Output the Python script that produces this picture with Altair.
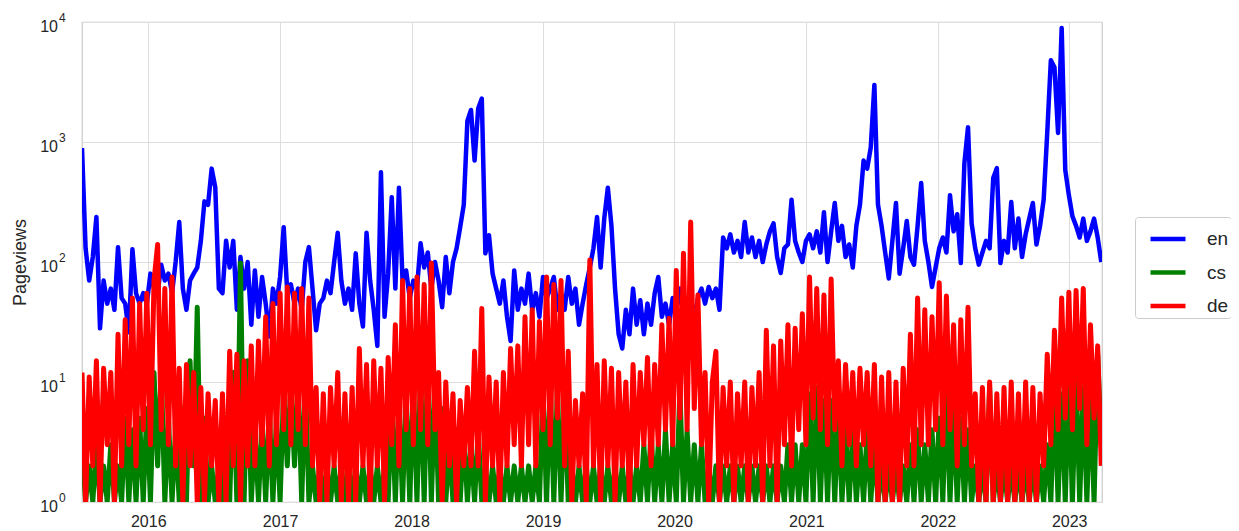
import altair as alt
import pandas as pd

# sampling dates (every 10 days from 2015-07-01)
n_points = 284
dates = pd.date_range("2015-07-01", periods=n_points, freq="10D").strftime("%Y-%m-%d").tolist()

en = [
    890, 130, 70, 110, 237, 28, 70, 45, 60, 40,
    133, 50, 45, 26, 128, 55, 45, 55, 45, 80,
    60, 55, 95, 70, 80, 55, 100, 215, 60, 40,
    70, 80, 90, 150, 320, 300, 600, 420, 60, 55,
    150, 90, 150, 40, 110, 60, 100, 30, 85, 35,
    75, 45, 24, 60, 45, 75, 195, 55, 65, 45,
    60, 40, 100, 133, 60, 27, 45, 50, 70, 55,
    100, 175, 70, 45, 60, 40, 118, 45, 29, 175,
    70, 40, 20, 560, 35, 80, 347, 60, 415, 70,
    85, 50, 70, 60, 143, 90, 120, 60, 100, 70,
    42, 110, 55, 100, 130, 195, 300, 1500, 1850, 700,
    1900, 2300, 118, 167, 80, 60, 45, 70, 35, 22,
    85, 40, 60, 45, 80, 40, 55, 35, 75, 50,
    60, 75, 40, 55, 40, 75, 45, 60, 30, 45,
    65, 90, 130, 237, 90, 230, 415, 200, 60, 25,
    19, 40, 25, 60, 30, 48, 25, 45, 30, 55,
    75, 35, 45, 30, 50, 40, 60, 35, 45, 55,
    30, 50, 60, 45, 62, 50, 60, 40, 160, 130,
    170, 120, 150, 110, 215, 120, 160, 110, 150, 100,
    140, 180, 210, 110, 81, 130, 140, 330, 150, 120,
    100, 150, 170, 130, 180, 120, 260, 100, 180, 310,
    150, 200, 110, 140, 90, 200, 300, 700, 600, 900,
    2990, 300, 200, 120, 73, 150, 310, 80, 130, 220,
    110, 95, 200, 455, 150, 100, 62, 90, 130, 160,
    120, 360, 180, 250, 98, 670, 1330, 210, 130, 95,
    120, 150, 130, 500, 605, 98, 150, 120, 316, 130,
    230, 110, 170, 230, 310, 140, 200, 330, 1200, 4800,
    4200, 1190, 8900, 585, 360, 240, 200, 160, 230, 150,
    180, 230, 160, 100,
]

de = [
    12, 1, 11, 2, 15, 1, 13, 3, 12, 1,
    25, 2, 33, 3, 50, 2, 45, 4, 55, 3,
    70, 140, 4, 60, 3, 75, 2, 13, 1, 14,
    2, 12, 1, 9, 1, 8, 2, 7, 1, 8,
    1, 18, 2, 17, 1, 15, 2, 20, 2, 22,
    3, 35, 2, 45, 3, 55, 4, 62, 3, 55,
    4, 60, 3, 50, 2, 9, 1, 8, 1, 9,
    2, 12, 1, 8, 1, 9, 1, 19, 2, 14,
    1, 15, 2, 13, 1, 16, 3, 30, 2, 70,
    4, 60, 3, 75, 4, 65, 3, 98, 4, 12,
    1, 10, 2, 8, 1, 7, 2, 9, 2, 18,
    2, 41, 1, 11, 2, 10, 1, 12, 2, 19,
    3, 20, 2, 35, 3, 40, 2, 32, 4, 75,
    3, 65, 5, 70, 2, 18, 1, 7, 2, 8,
    1, 104, 2, 14, 1, 15, 2, 13, 1, 12,
    2, 10, 1, 14, 2, 12, 3, 16, 2, 14,
    3, 30, 4, 34, 3, 85, 5, 118, 4, 215,
    6, 53, 3, 12, 1, 10, 18, 1, 9, 2,
    10, 1, 8, 2, 10, 1, 9, 2, 12, 1,
    27, 2, 20, 1, 22, 3, 30, 2, 28, 4,
    37, 3, 75, 5, 60, 4, 53, 3, 72, 4,
    15, 2, 14, 3, 12, 2, 13, 3, 12, 2,
    14, 1, 11, 1, 12, 1, 10, 1, 13, 2,
    25, 2, 50, 3, 40, 3, 35, 4, 67, 3,
    52, 4, 30, 2, 33, 3, 42, 2, 8, 1,
    9, 1, 10, 1, 8, 1, 9, 1, 10, 1,
    8, 1, 10, 1, 9, 1, 8, 2, 17, 3,
    27, 4, 50, 5, 56, 4, 58, 6, 60, 3,
    30, 5, 20, 2,
]

cs = [
    3, 1, 2, 1, 3, 1, 2, 1, 3, 1,
    2, 1, 5, 1, 4, 1, 5, 1, 6, 1,
    12, 2, 13, 1, 5, 1, 4, 1, 6, 1,
    15, 2, 42, 1, 5, 1, 2, 1, 2, 1,
    3, 1, 12, 1, 98, 1, 15, 1, 4, 1,
    5, 1, 6, 1, 5, 1, 9, 2, 10, 2,
    10, 1, 11, 1, 2, 1, 2, 1, 2, 1,
    2, 1, 2, 1, 2, 1, 2, 1, 2, 1,
    2, 1, 2, 1, 2, 1, 7, 1, 7, 1,
    8, 1, 10, 1, 12, 1, 16, 1, 10, 1,
    6, 1, 3, 1, 4, 1, 4, 1, 3, 1,
    4, 1, 2, 1, 2, 1, 2, 1, 2, 1,
    2, 1, 2, 1, 2, 1, 2, 1, 9, 1,
    10, 1, 9, 1, 8, 1, 2, 1, 2, 1,
    2, 1, 2, 1, 2, 1, 2, 1, 2, 1,
    2, 1, 2, 1, 2, 1, 3, 1, 4, 1,
    3, 1, 4, 1, 3, 1, 9, 1, 4, 1,
    3, 1, 3, 1, 2, 1, 2, 1, 2, 1,
    2, 1, 2, 1, 2, 1, 2, 1, 2, 1,
    2, 1, 2, 1, 2, 1, 3, 1, 3, 1,
    3, 1, 8, 1, 9, 1, 7, 1, 7, 1,
    6, 1, 4, 1, 4, 1, 3, 1, 4, 1,
    3, 1, 2, 1, 2, 1, 2, 1, 2, 1,
    3, 1, 4, 1, 3, 1, 4, 1, 5, 1,
    8, 1, 6, 1, 5, 1, 4, 1, 2, 1,
    2, 1, 9, 1, 2, 1, 2, 1, 2, 1,
    2, 1, 2, 1, 2, 1, 2, 1, 3, 1,
    9, 1, 8, 1, 10, 1, 12, 1, 9, 1,
    8, 1, 17, 3,
]

langs = ["en", "cs", "de"]
colors = ["#0000ff", "#008000", "#ff0000"]
line_widths = [4.5, 5, 5]
y_ticks = [1, 10, 100, 1000, 10000]
y_tick_base = ["10", "10", "10", "10", "10"]
y_tick_exp = ["0", "1", "2", "3", "4"]

series = {"en": en, "cs": cs, "de": de}
rows = []
for lang in langs:
    for d, v in zip(dates, series[lang]):
        rows.append({"date": d, "views": v, "lang": lang})
df = pd.DataFrame(rows)

tick_df = pd.DataFrame({"views": y_ticks, "base": y_tick_base, "exp": y_tick_exp})

x_enc = alt.X(
    "date:T",
    scale=alt.Scale(
        type="utc",
        domain=[alt.DateTime(year=2015, month=7, date=1, utc=True),
                alt.DateTime(year=2023, month=4, date=2, utc=True)],
        nice=False,
    ),
    axis=alt.Axis(title=None, tickCount="year", format="%Y", labelPadding=11,
                  labelFontSize=16),
)
y_scale = alt.Scale(type="log", domain=[1, 10000], nice=False)
y_enc = alt.Y(
    "views:Q",
    scale=y_scale,
    axis=alt.Axis(
        title="Pageviews",
        values=y_ticks,
        labels=False,
        titleFontSize=18,
        titleX=-62,
        titleY=240,
        titleAngle=270,
        titleAlign="center",
        titleBaseline="middle",
    ),
)
color_enc = alt.Color(
    "lang:N",
    scale=alt.Scale(domain=langs, range=colors),
    legend=alt.Legend(
        orient="none", legendX=1053, legendY=195, title=None,
        fillColor="white", strokeColor="#cccccc", padding=2, cornerRadius=3,
        symbolType="stroke", symbolSize=1225, symbolStrokeWidth=4.5,
        labelFontSize=19, labelFont="Liberation Sans", labelColor="#262626",
        labelOffset=19, rowPadding=3.5, symbolOffset=11,
    ),
)

layers = []
for lang, lw in zip(langs, line_widths):
    layers.append(
        alt.Chart(df)
        .transform_filter(alt.datum.lang == lang)
        .mark_line(strokeWidth=lw, strokeJoin="round", clip=True)
        .encode(x=x_enc, y=y_enc, color=color_enc)
    )

# y tick labels: "10" with a raised exponent
base_labels = (
    alt.Chart(tick_df)
    .mark_text(align="right", baseline="middle", dy=5, fontSize=16,
               font="Liberation Sans", color="#262626")
    .encode(x=alt.value(-24), y=alt.Y("views:Q", scale=y_scale),
            text="base:N")
)
exp_labels = (
    alt.Chart(tick_df)
    .mark_text(align="left", baseline="middle", dy=-4, fontSize=12,
               font="Liberation Sans", color="#262626")
    .encode(x=alt.value(-23), y=alt.Y("views:Q", scale=y_scale),
            text="exp:N")
)

chart = (
    alt.layer(*layers, base_labels, exp_labels)
    .properties(
        width=1020, height=480,
        autosize=alt.AutoSizeParams(type="none"),
        padding={"left": 74, "top": 14, "right": 129, "bottom": 32},
        background="white",
    )
    .configure_view(stroke="#cccccc", strokeWidth=1.25)
    .configure_axis(
        gridColor="#dedede", gridWidth=1, domain=False, ticks=False,
        labelFont="Liberation Sans", labelColor="#262626",
        titleFont="Liberation Sans", titleColor="#262626",
        titleFontWeight="normal",
    )
)

chart.save("out.html", embed_options={"renderer": "svg", "actions": False})
